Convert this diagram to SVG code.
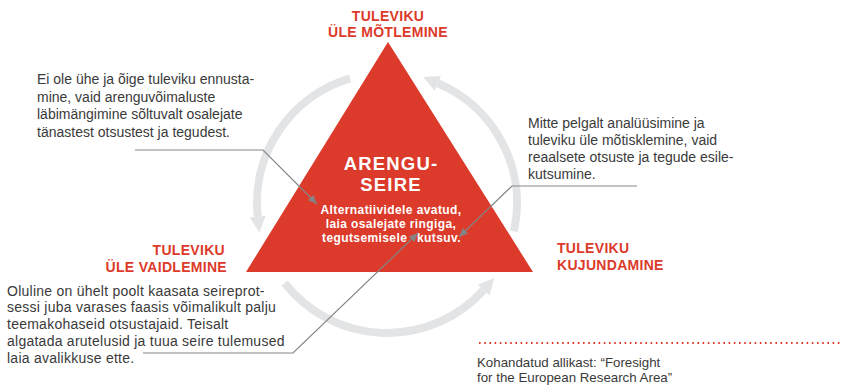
<svg xmlns="http://www.w3.org/2000/svg" width="843" height="385" viewBox="0 0 843 385">
<style>
.body{font-family:"Liberation Sans",Arial,sans-serif;font-size:14px;fill:#3a3a3a}
.lab{font-family:"Liberation Sans",Arial,sans-serif;font-size:14px;font-weight:bold;fill:#dc3a2a;letter-spacing:0.3px}
.wt{font-family:"Liberation Sans",Arial,sans-serif;font-weight:bold;fill:#ffffff}
.src{font-family:"Liberation Sans",Arial,sans-serif;font-size:13.3px;fill:#3a3a3a}
.arc{fill:none;stroke:#e3e4e6;stroke-width:8;marker-end:url(#bigArrow)}
.lead{fill:none;stroke:#858585;stroke-width:1.2;marker-end:url(#smallArrow)}
</style>
<defs>
<marker id="bigArrow" markerUnits="userSpaceOnUse" markerWidth="20" markerHeight="20" refX="0" refY="0" viewBox="0 -10 20 20" orient="auto" overflow="visible">
<path d="M0,-8 L16,0 L0,8 z" fill="#e3e4e6"/>
</marker>
<marker id="smallArrow" markerUnits="userSpaceOnUse" markerWidth="12" markerHeight="10" refX="9" refY="0" viewBox="0 -5 12 10" orient="auto" overflow="visible">
<path d="M0,-3.8 L9,0 L0,3.8 z" fill="#858585"/>
</marker>
</defs>

<g id="cycle">
<path class="arc" d="M350.1,78.3 A130,130 0 0,0 257.7,216.6"/>
<path class="arc" d="M284.6,283 A130,130 0 0,0 483.6,290"/>
<path class="arc" d="M513.9,231.4 A130,130 0 0,0 437.8,83.3"/>
</g>

<g id="center">
<polygon points="388,42 533,272 246,272" fill="#dc3a2a"/>
<text class="wt" font-size="18.5" letter-spacing="1.2" text-anchor="middle" x="391" y="170">ARENGU-</text>
<text class="wt" font-size="18.5" letter-spacing="1.2" text-anchor="middle" x="391" y="191">SEIRE</text>
<text class="wt" font-size="12" letter-spacing="0.4" text-anchor="middle" x="391" y="213.5">Alternatiividele avatud,</text>
<text class="wt" font-size="12" letter-spacing="0.4" text-anchor="middle" x="391" y="227.5">laia osalejate ringiga,</text>
<text class="wt" font-size="12" letter-spacing="0.4" x="322" y="241.5">tegutsemisele</text>
<text class="wt" font-size="12" letter-spacing="0.4" x="417" y="241.5">kutsuv.</text>
</g>

<g id="label-top">
<text class="lab" text-anchor="middle" x="388" y="20.5">TULEVIKU</text>
<text class="lab" text-anchor="middle" x="388" y="36.5">ÜLE MÕTLEMINE</text>
</g>
<g id="label-left">
<text class="lab" text-anchor="end" x="225" y="255">TULEVIKU</text>
<text class="lab" text-anchor="end" x="227" y="272">ÜLE VAIDLEMINE</text>
</g>
<g id="label-right">
<text class="lab" x="557" y="253">TULEVIKU</text>
<text class="lab" x="557" y="270">KUJUNDAMINE</text>
</g>

<g id="note-top-left">
<text class="body" x="37" y="84.3">Ei ole ühe ja õige tuleviku ennusta-</text>
<text class="body" x="37" y="101.7">mine, vaid arenguvõimaluste</text>
<text class="body" x="37" y="119">läbimängimine sõltuvalt osalejate</text>
<text class="body" x="37" y="136.5">tänastest otsustest ja tegudest.</text>
</g>
<g id="note-right">
<text class="body" x="528" y="128">Mitte pelgalt analüüsimine ja</text>
<text class="body" x="528" y="145">tuleviku üle mõtisklemine, vaid</text>
<text class="body" x="528" y="162">reaalsete otsuste ja tegude esile-</text>
<text class="body" x="528" y="179">kutsumine.</text>
</g>
<g id="note-bottom-left" letter-spacing="0.25">
<text class="body" x="7" y="295.5">Oluline on ühelt poolt kaasata seireprot-</text>
<text class="body" x="7" y="312.3">sessi juba varases faasis võimalikult palju</text>
<text class="body" x="7" y="329">teemakohaseid otsustajaid. Teisalt</text>
<text class="body" x="7" y="345.8">algatada arutelusid ja tuua seire tulemused</text>
<text class="body" x="7" y="362.5">laia avalikkuse ette.</text>
</g>

<g id="connectors">
<path class="lead" d="M135,150 H263 L317,204"/>
<path class="lead" d="M637,186 H512 L459,237"/>
<path class="lead" d="M143,353 H293 L418,233"/>
</g>

<g id="source">
<line x1="479" y1="343" x2="843" y2="343" stroke="#dc3a2a" stroke-width="1.8" stroke-dasharray="1.6 3.6"/>
<text class="src" x="477" y="367.3">Kohandatud allikast: “Foresight</text>
<text class="src" x="477" y="381.7">for the European Research Area”</text>
</g>
</svg>
